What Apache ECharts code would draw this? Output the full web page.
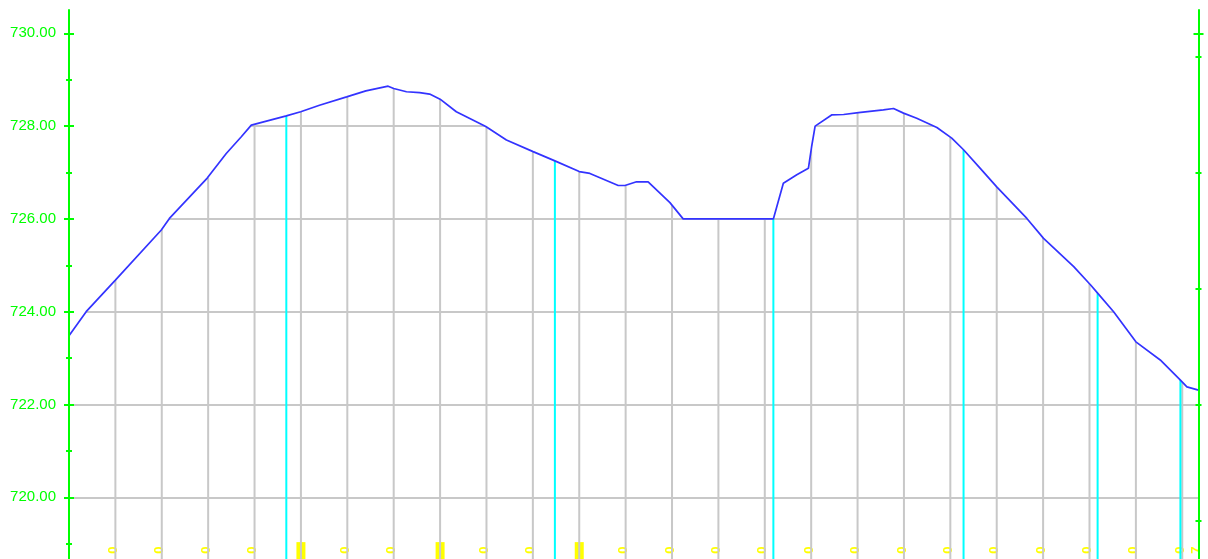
<!DOCTYPE html>
<html><head><meta charset="utf-8">
<script src="https://cdn.jsdelivr.net/npm/echarts@6/dist/echarts.min.js"></script>
<style>html,body{margin:0;padding:0;background:#fff}#c{width:1208px;height:559px}</style>
</head><body><div id="c"></div>
<script>
// ---- ground profile (station m, elevation m) ----
const profileStations = [0, 7.4, 20, 39.8, 43.3, 59.6, 67.8, 74.3, 78.6, 93.7, 99.9, 108, 119.7, 128, 137.6, 140, 145.5, 151.2, 155.5, 160, 167, 179.7, 188.6, 200.1, 209.5, 220, 224.6, 236.8, 239.7, 244.7, 249.7, 259.1, 264.8, 303.7, 308, 313.8, 318.8, 320.2, 321.7, 328.8, 334, 340.4, 351.1, 355.5, 359.8, 365.5, 374.2, 380.6, 385.7, 392.9, 400, 413, 420.2, 433.2, 440.4, 443.5, 450.4, 460, 470.5, 479.1, 482, 487];
const profileElevations = [723.48, 724.0, 724.68, 725.76, 726.01, 726.88, 727.41, 727.77, 728.02, 728.22, 728.31, 728.45, 728.63, 728.76, 728.86, 728.81, 728.74, 728.72, 728.69, 728.58, 728.31, 727.99, 727.70, 727.45, 727.25, 727.02, 726.98, 726.72, 726.72, 726.80, 726.80, 726.35, 726.0, 726.0, 726.77, 726.95, 727.09, 727.56, 728.0, 728.24, 728.25, 728.29, 728.35, 728.38, 728.28, 728.17, 727.97, 727.74, 727.49, 727.09, 726.69, 726.01, 725.58, 724.97, 724.58, 724.40, 724.0, 723.35, 722.96, 722.53, 722.38, 722.31];

// ---- stake drop lines ----
const grayStations = [20, 40, 60, 80, 100, 120, 140, 160, 180, 200, 220, 240, 260, 280, 300, 320, 340, 360, 380, 400, 420, 440, 460, 480];
const grayElevations = [724.68, 725.77, 726.89, 728.04, 728.31, 728.63, 728.82, 728.58, 727.99, 727.45, 727.02, 726.72, 726.32, 726.0, 726.0, 727.5, 728.29, 728.28, 727.76, 726.69, 725.6, 724.6, 723.35, 722.5];
const cyanStations = [93.7, 209.5, 303.7, 385.7, 443.5, 479.2];
const cyanElevations = [728.22, 727.25, 726.0, 727.49, 724.40, 722.53];

// ---- station labels along the bottom ----
const labelStations = [20, 40, 60, 80, 100, 120, 140, 160, 180, 200, 220, 240, 260, 280, 300, 320, 340, 360, 380, 400, 420, 440, 460, 480, 487];
const blockLabelStations = [100, 160, 220];

// ---- axis ticks ----
const leftLabelValues = [720, 722, 724, 726, 728, 730];
const leftMinorTicks = [719, 721, 723, 725, 727, 729];
const rightTicks = [719.5, 722, 724.5, 727, 729.5];
const rightMajorTicks = [730];

const Y_MIN = 718, Y_MAX = 730.5, X_MIN = 0, X_MAX = 487;
const GREEN = '#00ff00';
const YELLOW = '#ffff00';

function tickAxis(pos, values, len) {
  return {
    type: 'value', position: pos, min: Y_MIN, max: Y_MAX, offset: -len / 2, z: 10,
    axisLine: { show: false, onZero: false },
    axisLabel: { show: false },
    splitLine: { show: false },
    axisTick: { show: true, customValues: values, length: len, lineStyle: { color: GREEN, width: 2 } }
  };
}

const dropData = grayStations.map((s, i) => ({ value: [s, grayElevations[i]], itemStyle: { color: '#c8c8c8' } }))
  .concat(cyanStations.map((s, i) => ({ value: [s, cyanElevations[i]], itemStyle: { color: '#00ffff' } })));
const profileData = profileStations.map((s, i) => [s, profileElevations[i]]);

function stationText(v) {
  return 'K0+' + String(Math.round(v)).padStart(3, '0');
}
function stationLabel(v) {
  const t = stationText(v);
  if (blockLabelStations.indexOf(v) >= 0) return '{b|' + t + '}';
  return '{n|' + t.slice(0, -1) + '}{e|' + t.slice(-1) + '}';
}

const chart = echarts.init(document.getElementById('c'), null, { renderer: 'canvas' });
chart.setOption({
  backgroundColor: '#ffffff',
  animation: false,
  grid: { left: 69, right: 9.5, top: 10.1, bottom: -31.1, containLabel: false, outerBoundsMode: 'none' },
  xAxis: {
    type: 'value', min: X_MIN, max: X_MAX, position: 'bottom',
    axisLine: { show: false, onZero: false }, axisTick: { show: false }, splitLine: { show: false },
    axisLabel: {
      show: true, inside: true, rotate: 90, margin: -5.3, customValues: labelStations,
      formatter: stationLabel,
      rich: {
        n: { color: YELLOW, fontSize: 12, fontWeight: 'bold', fontFamily: 'Liberation Sans', padding: [0, 0, 4, 0] },
        e: { color: YELLOW, fontSize: 13, fontWeight: 'bold', fontFamily: 'Liberation Sans', padding: [0, 0, 4, 6] },
        b: { color: YELLOW, fontSize: 9, fontFamily: 'Liberation Sans', backgroundColor: YELLOW, lineHeight: 9, padding: [0, 22, 0, 0] }
      }
    }
  },
  yAxis: [
    {
      type: 'value', position: 'left', min: Y_MIN, max: Y_MAX, z: 10,
      axisLine: { show: true, onZero: false, lineStyle: { color: GREEN, width: 2 } },
      axisTick: { show: false },
      splitLine: { show: false },
      axisLabel: { show: true, customValues: leftLabelValues, margin: 13, color: GREEN, fontSize: 15, fontFamily: 'Liberation Sans', formatter: v => v.toFixed(2) }
    },
    tickAxis('left', leftLabelValues, 10),
    tickAxis('left', leftMinorTicks, 6),
    {
      type: 'value', position: 'right', min: Y_MIN, max: Y_MAX, z: 10,
      axisLine: { show: true, onZero: false, lineStyle: { color: GREEN, width: 2 } },
      axisTick: { show: false }, axisLabel: { show: false }, splitLine: { show: false }
    },
    tickAxis('right', rightTicks, 6),
    tickAxis('right', rightMajorTicks, 10),
    {
      type: 'value', position: 'left', min: Y_MIN, max: Y_MAX, interval: 2, z: 0,
      axisLine: { show: false, onZero: false }, axisTick: { show: false }, axisLabel: { show: false },
      splitLine: { show: true, showMaxLine: false, lineStyle: { color: '#c8c8c8', width: 2 } }
    }
  ],
  series: [
    { type: 'bar', yAxisIndex: 0, data: dropData, barWidth: 2, silent: true, z: 2, clip: true },
    {
      type: 'line', yAxisIndex: 0, data: profileData, symbol: 'none', silent: true, z: 3,
      lineStyle: { color: '#3333ff', width: 1.7 },
      areaStyle: { color: '#ffffff', opacity: 1, origin: 'end' }
    }
  ]
});
</script>
</body></html>
